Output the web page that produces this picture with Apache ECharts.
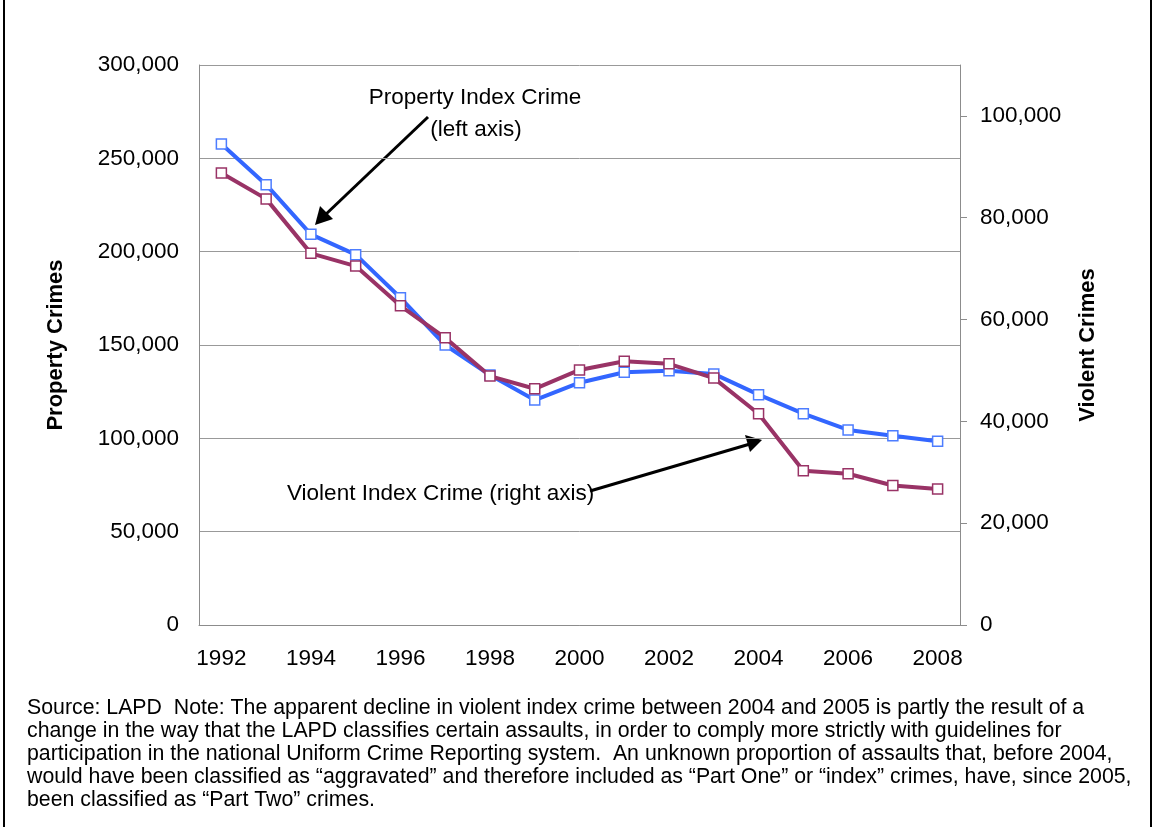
<!DOCTYPE html>
<html>
<head>
<meta charset="utf-8">
<script src="https://cdn.jsdelivr.net/npm/echarts@6/dist/echarts.min.js"></script>
<style>
html,body{margin:0;padding:0;background:#fff;}
#chart{width:1154px;height:827px;}
</style>
</head>
<body>
<div id="chart"></div>
<script>
const years = ['1992','1993','1994','1995','1996','1997','1998','1999','2000','2001','2002','2003','2004','2005','2006','2007','2008'];
const propertyCrimes = [257700,235900,209300,198400,175300,150000,133900,120500,129800,135400,136200,134500,123400,113200,104500,101400,98400];
const violentCrimes = [88800,83700,73000,70500,62700,56400,48900,46400,50100,51800,51300,48500,41500,30300,29700,27400,26700];
const leftTicks = [0,50000,100000,150000,200000,250000,300000];
const rightTicks = [0,20000,40000,60000,80000,100000];
const footnote = [
  'Source: LAPD  Note: The apparent decline in violent index crime between 2004 and 2005 is partly the result of a',
  'change in the way that the LAPD classifies certain assaults, in order to comply more strictly with guidelines for',
  'participation in the national Uniform Crime Reporting system.  An unknown proportion of assaults that, before 2004,',
  'would have been classified as \u201caggravated\u201d and therefore included as \u201cPart One\u201d or \u201cindex\u201d crimes, have, since 2005,',
  'been classified as \u201cPart Two\u201d crimes.'
];

const FONT = 'Arial, "Liberation Sans", sans-serif';
const fmt = v => Number(v).toLocaleString('en-US');
const chart = echarts.init(document.getElementById('chart'));

const option = {
  backgroundColor: '#fff',
  animation: false,
  grid: {left: 199, right: 194, top: 65, bottom: 202, containLabel: false},
  xAxis: {
    type: 'category',
    data: years,
    boundaryGap: true,
    axisLine: {show: true, lineStyle: {color: '#8c8c8c', width: 1}},
    axisTick: {show: false},
    axisLabel: {interval: 1, color: '#000', fontSize: 22.5, fontFamily: FONT, margin: 22},
    splitLine: {show: false}
  },
  yAxis: [
    {
      type: 'value',
      min: 0, max: 300000, interval: 50000,
      position: 'left',
      name: 'Property Crimes',
      nameLocation: 'middle',
      nameRotate: 90,
      nameGap: 132,
      nameTextStyle: {color: '#000', fontSize: 22, fontWeight: 'bold', fontFamily: FONT},
      axisLine: {show: true, lineStyle: {color: '#8c8c8c', width: 1}},
      axisTick: {show: false},
      axisLabel: {color: '#000', fontSize: 22.5, fontFamily: FONT, margin: 20, formatter: fmt, padding: [5, 0, 0, 0]},
      splitLine: {show: true, lineStyle: {color: '#999', width: 1}}
    },
    {
      type: 'value',
      min: 0, max: 110000, interval: 20000,
      position: 'right',
      name: 'Violent Crimes',
      nameLocation: 'middle',
      nameRotate: 90,
      nameGap: 117,
      nameTextStyle: {color: '#000', fontSize: 22, fontWeight: 'bold', fontFamily: FONT},
      axisLine: {show: true, lineStyle: {color: '#8c8c8c', width: 1}},
      axisTick: {show: true, inside: false, length: 7, lineStyle: {color: '#8c8c8c'}, customValues: rightTicks},
      axisLabel: {color: '#000', fontSize: 22.5, fontFamily: FONT, margin: 20, formatter: fmt, customValues: rightTicks, padding: [4, 0, 0, 0]},
      splitLine: {show: false}
    }
  ],
  series: [
    {
      name: 'Property Index Crime',
      type: 'line',
      yAxisIndex: 0,
      data: propertyCrimes,
      symbol: 'rect',
      symbolSize: 10,
      showAllSymbol: true,
      lineStyle: {color: '#3366ff', width: 4},
      itemStyle: {color: '#fff', borderColor: '#4d7dff', borderWidth: 1.5},
      z: 2
    },
    {
      name: 'Violent Index Crime',
      type: 'line',
      yAxisIndex: 1,
      data: violentCrimes,
      symbol: 'rect',
      symbolSize: 10,
      showAllSymbol: true,
      lineStyle: {color: '#993366', width: 4},
      itemStyle: {color: '#fff', borderColor: '#993366', borderWidth: 1.5},
      z: 3
    }
  ],
  graphic: [
    {type: 'text', x: 475, y: 98, style: {text: 'Property Index Crime', font: '22.5px ' + FONT, fill: '#000', textAlign: 'center', textVerticalAlign: 'middle'}},
    {type: 'text', x: 476, y: 130, style: {text: '(left axis)', font: '22.5px ' + FONT, fill: '#000', textAlign: 'center', textVerticalAlign: 'middle'}},
    {type: 'text', x: 287, y: 494, style: {text: 'Violent Index Crime (right axis)', font: '22.5px ' + FONT, fill: '#000', textAlign: 'left', textVerticalAlign: 'middle'}},
    {type: 'line', shape: {x1: 428, y1: 117, x2: 324, y2: 216}, style: {stroke: '#000', lineWidth: 3}},
    {type: 'polygon', shape: {points: [[315, 225], [320, 206], [333, 219]]}, style: {fill: '#000'}},
    {type: 'line', shape: {x1: 590, y1: 491, x2: 750, y2: 444}, style: {stroke: '#000', lineWidth: 3}},
    {type: 'polygon', shape: {points: [[762, 440], [745, 435], [750, 452]]}, style: {fill: '#000'}},
    {type: 'text', x: 27, y: 697, style: {text: footnote.join('\n'), font: '21.3px ' + FONT, fill: '#000', lineHeight: 23, textAlign: 'left', textVerticalAlign: 'top'}},
    {type: 'rect', shape: {x: 3, y: 0, width: 2, height: 827}, style: {fill: '#000'}},
    {type: 'rect', shape: {x: 1150, y: 0, width: 2, height: 827}, style: {fill: '#000'}}
  ]
};
chart.setOption(option);
</script>
</body>
</html>
